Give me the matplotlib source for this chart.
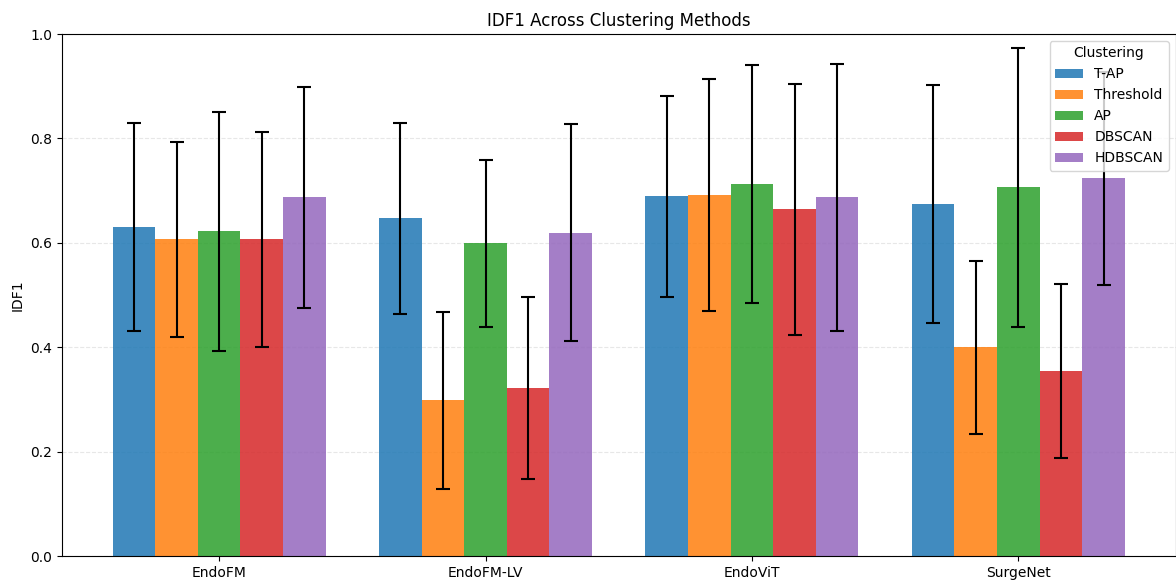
import numpy as np
import matplotlib
matplotlib.use("Agg")
import matplotlib.pyplot as plt

models = ["EndoFM", "EndoFM-LV", "EndoViT", "SurgeNet"]
methods = ["T-AP", "Threshold", "AP", "DBSCAN", "HDBSCAN"]
colors = ["tab:blue", "tab:orange", "tab:green", "tab:red", "tab:purple"]

# mean IDF1 per method (rows) for each model (columns)
tap_mean = [0.630, 0.647, 0.689, 0.674]
thr_mean = [0.607, 0.298, 0.691, 0.400]
ap_mean = [0.622, 0.599, 0.712, 0.706]
dbscan_mean = [0.607, 0.322, 0.664, 0.355]
hdbscan_mean = [0.687, 0.619, 0.687, 0.724]

tap_std = [0.199, 0.183, 0.193, 0.228]
thr_std = [0.187, 0.169, 0.222, 0.166]
ap_std = [0.229, 0.160, 0.228, 0.267]
dbscan_std = [0.206, 0.175, 0.241, 0.167]
hdbscan_std = [0.211, 0.208, 0.256, 0.204]

means = [tap_mean, thr_mean, ap_mean, dbscan_mean, hdbscan_mean]
stds = [tap_std, thr_std, ap_std, dbscan_std, hdbscan_std]

fig = plt.figure(figsize=(11.76, 5.82), dpi=100)
ax = fig.add_axes([62 / 1176, 1 - 556 / 582, (1175.5 - 62) / 1176, (556 - 34) / 582])

x = np.arange(len(models))
width = 0.16
for i, (m, s, c, name) in enumerate(zip(means, stds, colors, methods)):
    ax.bar(x + (i - 2) * width, m, width, yerr=s, capsize=5, color=c, alpha=0.85,
           label=name, error_kw=dict(ecolor="black", elinewidth=1.5, capthick=1.5))

ax.set_xticks(x)
ax.set_xticklabels(models)
ax.set_ylim(0, 1.0)
ax.set_xlim(-0.59, 3.59)
ax.set_ylabel("IDF1")
ax.set_title("IDF1 Across Clustering Methods")
ax.yaxis.grid(True, linestyle="--", alpha=0.3)
ax.set_axisbelow(True)
ax.legend(title="Clustering", loc="upper right")

fig.savefig("out.png", dpi=100)
